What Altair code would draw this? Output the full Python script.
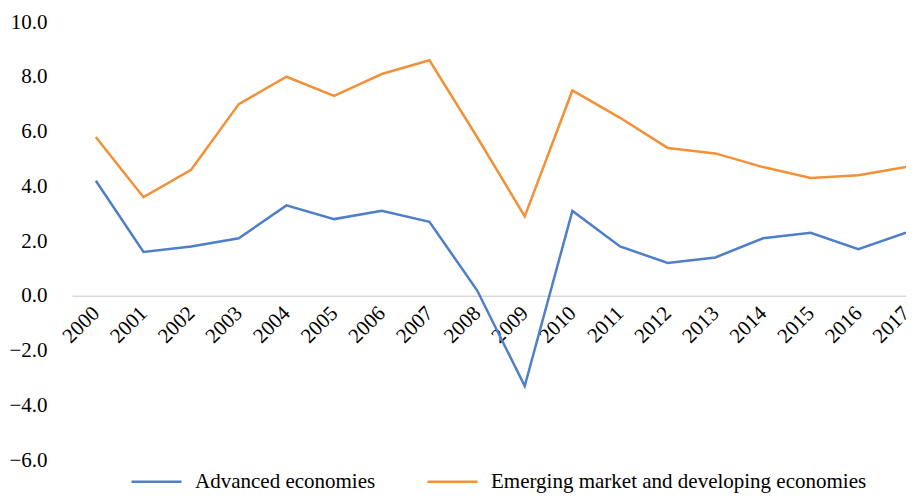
import altair as alt
import pandas as pd

years = list(range(2000, 2018))
advanced = [4.2, 1.6, 1.8, 2.1, 3.3, 2.8, 3.1, 2.7, 0.2, -3.3, 3.1, 1.8, 1.2, 1.4, 2.1, 2.3, 1.7, 2.3]
emerging = [5.8, 3.6, 4.6, 7.0, 8.0, 7.3, 8.1, 8.6, 5.8, 2.9, 7.5, 6.5, 5.4, 5.2, 4.7, 4.3, 4.4, 4.7]
series_names = ["Advanced economies", "Emerging market and developing economies"]
colors = ["#4E7FC8", "#F29137"]
y_ticks = [-6, -4, -2, 0, 2, 4, 6, 8, 10]

rows = []
for y, a, e in zip(years, advanced, emerging):
    rows.append({"year": y, "series": series_names[0], "value": a})
    rows.append({"year": y, "series": series_names[1], "value": e})
df = pd.DataFrame(rows)

FONT = "Liberation Serif"
W, H = 834, 438

chart = alt.Chart(df).mark_line(strokeWidth=2.5).encode(
    x=alt.X(
        "year:Q",
        scale=alt.Scale(domain=[1999.5, 2017], nice=False, zero=False),
        axis=alt.Axis(
            title=None,
            values=years,
            format="d",
            grid=False,
            ticks=False,
            tickSize=0,
            domainColor="#D9D9D9",
            domainWidth=1.5,
            offset=-(H * 6 / 16),
            labelAngle=315,
            labelAlign="right",
            labelBaseline="middle",
            labelPadding=14,
            labelFont=FONT,
            labelFontSize=21,
            labelColor="#000000",
            labelOverlap=False,
        ),
    ),
    y=alt.Y(
        "value:Q",
        scale=alt.Scale(domain=[-6, 10], nice=False),
        axis=alt.Axis(
            title=None,
            values=y_ticks,
            labelExpr="replace(format(datum.value, '.1f'), '-', '\u2013')",
            grid=False,
            ticks=False,
            tickSize=0,
            domain=False,
            labelPadding=25,
            labelFont=FONT,
            labelFontSize=21,
            labelColor="#000000",
        ),
    ),
    color=alt.Color(
        "series:N",
        scale=alt.Scale(domain=series_names, range=colors),
        legend=alt.Legend(
            title=None,
            orient="none",
            direction="horizontal",
            legendX=58,
            legendY=433,
            padding=0,
            symbolType="stroke",
            symbolSize=2500,
            symbolStrokeWidth=2.5,
            labelFont=FONT,
            labelFontSize=21,
            labelColor="#000000",
            labelOffset=12,
            columnPadding=46,
            labelLimit=600,
        ),
    ),
).properties(
    width=W,
    height=H,
    autosize=alt.AutoSizeParams(type="none"),
    padding={"left": 64, "top": 14, "right": 0, "bottom": 36},
).configure_view(stroke=None)

chart.save("out.html", embed_options={"renderer": "svg", "actions": False})
